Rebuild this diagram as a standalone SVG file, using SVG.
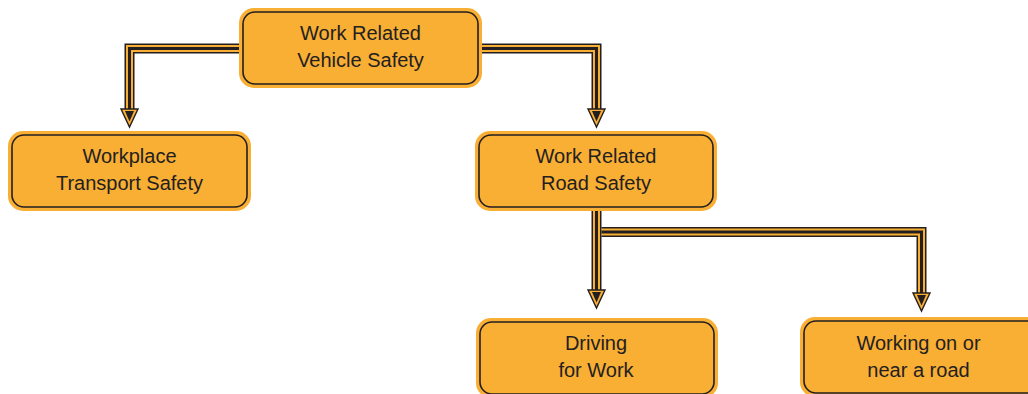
<svg xmlns="http://www.w3.org/2000/svg" xmlns:xlink="http://www.w3.org/1999/xlink" width="1028" height="394" viewBox="0 0 1028 394">
<style>
.outer{fill:#F9AE34;}
.inner{fill:none;stroke:#231F20;stroke-width:1.6;}
.lbl{font-family:"Liberation Sans",Arial,sans-serif;font-size:20px;fill:#231F20;text-anchor:middle;}
.p1{fill:none;stroke:#231F20;stroke-width:10;stroke-linejoin:miter;}
.p2{fill:none;stroke:#F9AE34;stroke-width:7;stroke-linejoin:miter;}
.p3{fill:none;stroke:#231F20;stroke-width:3;stroke-linejoin:miter;}
</style>
<defs>
<g id="head">
<polygon points="-8.5,-18 8.5,-18 0,0" fill="#F9AE34" stroke="#231F20" stroke-width="1.4" stroke-linejoin="miter"/>
<polygon points="-4.5,-16 4.5,-16 0,-5.5" fill="#231F20"/>
</g>
</defs>
<rect width="1028" height="394" fill="#FFFFFF"/>
<g id="connectors">
<g>
<path class="p1" d="M239,48.5 H129.5 V110"/>
<path class="p2" d="M239,48.5 H129.5 V110"/>
<path class="p3" d="M239,48.5 H129.5 V110"/>
<use xlink:href="#head" transform="translate(129.5,127)"/>
</g>
<g>
<path class="p1" d="M482,48.5 H596.5 V110"/>
<path class="p2" d="M482,48.5 H596.5 V110"/>
<path class="p3" d="M482,48.5 H596.5 V110"/>
<use xlink:href="#head" transform="translate(596.5,127)"/>
</g>
<g>
<path class="p1" d="M596.5,211 V291"/>
<path class="p2" d="M596.5,211 V291"/>
<path class="p3" d="M596.5,211 V291"/>
<use xlink:href="#head" transform="translate(596.5,308)"/>
</g>
<g>
<path class="p1" d="M601.5,232 H921.5 V294"/>
<path class="p2" d="M601.5,232 H921.5 V294"/>
<path class="p3" d="M601.5,232 H921.5 V294"/>
<use xlink:href="#head" transform="translate(921.5,311)"/>
</g>
</g>
<g id="vehicle-safety">
<rect class="outer" x="239" y="8" width="243" height="80" rx="15"/>
<rect class="inner" x="243" y="12" width="235" height="72" rx="12"/>
<text class="lbl" x="360.5" y="40">Work Related</text>
<text class="lbl" x="360.5" y="67">Vehicle Safety</text>
</g>
<g id="workplace-transport">
<rect class="outer" x="8" y="131" width="243" height="80" rx="15"/>
<rect class="inner" x="12" y="135" width="235" height="72" rx="12"/>
<text class="lbl" x="129.5" y="163">Workplace</text>
<text class="lbl" x="129.5" y="190">Transport Safety</text>
</g>
<g id="road-safety">
<rect class="outer" x="475" y="131" width="242" height="80" rx="15"/>
<rect class="inner" x="479" y="135" width="234" height="72" rx="12"/>
<text class="lbl" x="596" y="163">Work Related</text>
<text class="lbl" x="596" y="190">Road Safety</text>
</g>
<g id="driving-for-work">
<rect class="outer" x="476" y="318" width="242" height="80" rx="15"/>
<rect class="inner" x="480" y="322" width="234" height="72" rx="12"/>
<text class="lbl" x="596" y="350">Driving</text>
<text class="lbl" x="596" y="377">for Work</text>
</g>
<g id="working-near-road">
<rect class="outer" x="800" y="317" width="243" height="80" rx="15"/>
<rect class="inner" x="804" y="321" width="235" height="72" rx="12"/>
<text class="lbl" x="918.5" y="350">Working on or</text>
<text class="lbl" x="918.5" y="377">near a road</text>
</g>
</svg>
